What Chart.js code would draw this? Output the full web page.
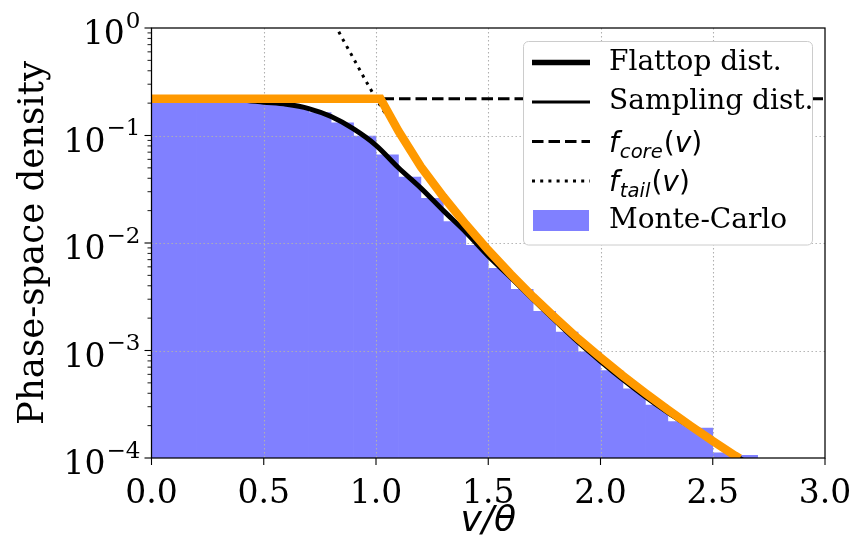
<!DOCTYPE html>
<html>
<head>
<meta charset="utf-8">
<script src="https://cdn.jsdelivr.net/npm/chart.js@4/dist/chart.umd.min.js"></script>
<style>
  html, body { margin: 0; padding: 0; background: #fff; }
  #wrap { width: 857px; height: 541px; }
</style>
</head>
<body>
<div id="wrap"><canvas id="c" width="857" height="541"></canvas></div>
<script>
// ---- data -------------------------------------------------------------
// velocity grid (v/theta) for the smooth curves
const speedGrid = [0.0, 0.1, 0.2, 0.3, 0.4, 0.5, 0.6, 0.7, 0.8, 0.9, 1.0, 1.1, 1.2, 1.3,
                   1.4, 1.5, 1.6, 1.7, 1.8, 1.9, 2.0, 2.1, 2.2, 2.3, 2.4, 2.5, 2.6, 2.7];
// flattop / sampling distribution (black curve)
const flattopDensity = [0.220, 0.220, 0.219, 0.218, 0.214, 0.204, 0.195, 0.178, 0.150, 0.115,
                        0.0810, 0.0501, 0.0324, 0.0200, 0.0126, 0.00759, 0.00479, 0.00298,
                        0.00188, 0.00120, 0.000794, 0.000537, 0.000372, 0.000266, 0.000195,
                        0.000143, 0.000105, 0.0000794];
// piecewise core/tail envelope (orange)
const envelopeV = [0.0, 1.02, 1.1, 1.2, 1.3, 1.4, 1.5, 1.6, 1.7, 1.8, 1.9, 2.0, 2.1, 2.2, 2.3,
                   2.4, 2.5, 2.6, 2.62];
const envelopeDensity = [0.22, 0.22, 0.110, 0.0512, 0.0269, 0.0149, 0.00857, 0.00512, 0.00315,
                         0.00200, 0.00129, 0.000859, 0.000581, 0.000401, 0.000281, 0.000200,
                         0.000144, 0.000105, 0.0000991];
// f_core(v): flat core level
const coreV = [0.0, 3.0];
const coreDensity = [0.22, 0.22];
// f_tail(v): steep tail, shown where it rises above the core
const tailV = [0.80, 0.85, 0.90, 0.95, 1.00, 1.05];
const tailDensity = [1.26, 0.80, 0.52, 0.335, 0.22, 0.15];
// Monte-Carlo histogram, bin width 0.1
const binCenters = [0.05, 0.15, 0.25, 0.35, 0.45, 0.55, 0.65, 0.75, 0.85, 0.95, 1.05, 1.15, 1.25,
                    1.35, 1.45, 1.55, 1.65, 1.75, 1.85, 1.95, 2.05, 2.15, 2.25, 2.35, 2.45, 2.55, 2.65];
const mcDensity = [0.200, 0.200, 0.200, 0.200, 0.200, 0.196, 0.184, 0.163, 0.131, 0.099, 0.066,
                   0.041, 0.026, 0.0158, 0.0095, 0.0058, 0.0037, 0.00232, 0.00148, 0.00097,
                   0.00065, 0.00044, 0.00031, 0.000218, 0.00019, 0.000112, 0.000106];
// axis ticks
const xTickValues = [0.0, 0.5, 1.0, 1.5, 2.0, 2.5, 3.0];
const yDecades = [0, -1, -2, -3, -4];

// ---- helpers ----------------------------------------------------------
const pts = (xs, ys) => xs.map((x, i) => ({ x: x, y: ys[i] }));
const SERIF = '"DejaVu Serif", "Liberation Serif", serif';
const SANS = '"DejaVu Sans", "Liberation Sans", sans-serif';
const HIST_BLUE = '#8080ff';
const ORANGE = '#ff9900';

function seg(ctx, x1, y1, x2, y2) {
  ctx.beginPath(); ctx.moveTo(x1, y1); ctx.lineTo(x2, y2); ctx.stroke();
}

// draws f_{sub}(v) in mathtext style
function drawMathF(ctx, x, baseline, sub, size) {
  const subSize = size * 0.7;
  ctx.textBaseline = 'alphabetic';
  ctx.textAlign = 'left';
  ctx.font = 'italic ' + size + 'px ' + SANS;
  ctx.fillText('f', x, baseline);
  x += ctx.measureText('f').width + 1;
  ctx.font = 'italic ' + subSize + 'px ' + SANS;
  ctx.fillText(sub, x, baseline + size * 0.22);
  x += ctx.measureText(sub).width + 1;
  ctx.font = size + 'px ' + SANS;
  ctx.fillText('(', x, baseline);
  x += ctx.measureText('(').width;
  ctx.font = 'italic ' + size + 'px ' + SANS;
  ctx.fillText('v', x, baseline);
  x += ctx.measureText('v').width;
  ctx.font = size + 'px ' + SANS;
  ctx.fillText(')', x, baseline);
}

const decorations = {
  id: 'decorations',
  // dotted grid sits above the histogram but below the curves
  afterDatasetDraw(chart, args) {
    if (args.index !== 0) return;
    const { ctx, chartArea: a, scales: { x, y } } = chart;
    ctx.save();
    ctx.strokeStyle = '#b0b0b0';
    ctx.lineWidth = 1.1;
    ctx.setLineDash([1.4, 2.6]);
    xTickValues.forEach(v => {
      const px = Math.round(x.getPixelForValue(v)) + 0.5;
      if (px > a.left + 2 && px < a.right - 2) seg(ctx, px, a.top, px, a.bottom);
    });
    yDecades.forEach(d => {
      const py = Math.round(y.getPixelForValue(Math.pow(10, d))) + 0.5;
      if (py > a.top + 2 && py < a.bottom - 2) seg(ctx, a.left, py, a.right, py);
    });
    ctx.restore();
  },
  afterDraw(chart) {
    const { ctx, chartArea: a, scales: { x, y } } = chart;
    ctx.save();
    // frame
    ctx.strokeStyle = '#000';
    ctx.lineWidth = 1.25;
    ctx.setLineDash([]);
    ctx.strokeRect(a.left, a.top, a.right - a.left, a.bottom - a.top);
    // x ticks
    ctx.lineWidth = 1.1;
    xTickValues.forEach(v => {
      const px = x.getPixelForValue(v);
      seg(ctx, px, a.bottom, px, a.bottom + 7);
    });
    // y ticks (major + minor) and labels 10^n
    yDecades.forEach(d => {
      const py = y.getPixelForValue(Math.pow(10, d));
      ctx.lineWidth = 1.1;
      seg(ctx, a.left - 7, py, a.left, py);
      if (d < 0) {
        ctx.lineWidth = 0.9;
        for (let m = 2; m <= 9; m++) {
          const pm = y.getPixelForValue(m * Math.pow(10, d));
          seg(ctx, a.left - 4, pm, a.left, pm);
        }
      }
      const exp = d === 0 ? '0' : '\u2212' + String(-d);
      ctx.fillStyle = '#000';
      ctx.textBaseline = 'alphabetic';
      ctx.textAlign = 'right';
      const right = a.left - 11;
      ctx.font = '23px ' + SERIF;
      const ew = ctx.measureText(exp).width;
      ctx.fillText(exp, right, py - 0.5);
      ctx.font = '33px ' + SERIF;
      ctx.fillText('10', right - ew - 1, py + 16);
    });
    // y title
    ctx.save();
    ctx.translate(34, (a.top + a.bottom) / 2);
    ctx.rotate(-Math.PI / 2);
    ctx.font = '35.5px ' + SERIF;
    ctx.textAlign = 'center';
    ctx.textBaseline = 'middle';
    ctx.fillText('Phase-space density', 0, 0);
    ctx.restore();
    // x title v/θ
    ctx.font = 'italic 36px ' + SANS;
    ctx.textAlign = 'center';
    ctx.textBaseline = 'alphabetic';
    ctx.fillText('v/\u03b8', (a.left + a.right) / 2, 531);

    // legend
    const lx = 523.5, ly = 41.5, lw = 289, lh = 203.5;
    ctx.beginPath();
    ctx.roundRect(lx, ly, lw, lh, 5);
    ctx.fillStyle = '#ffffff';
    ctx.fill();
    ctx.strokeStyle = '#cccccc';
    ctx.lineWidth = 1;
    ctx.stroke();
    const rowY = [62.5, 102, 141.5, 181, 220.5];
    const sx1 = 532, sx2 = 590, tx = 609;
    ctx.strokeStyle = '#000';
    ctx.lineCap = 'butt';
    // Flattop dist.
    ctx.lineWidth = 5.5; ctx.setLineDash([]);
    seg(ctx, sx1, rowY[0], sx2, rowY[0]);
    // Sampling dist.
    ctx.lineWidth = 3; seg(ctx, sx1, rowY[1], sx2, rowY[1]);
    // f_core
    ctx.setLineDash([11.5, 5]); seg(ctx, sx1, rowY[2], sx2, rowY[2]);
    // f_tail
    ctx.setLineDash([3, 5.2]); seg(ctx, sx1, rowY[3], sx2, rowY[3]);
    ctx.setLineDash([]);
    // Monte-Carlo patch
    ctx.fillStyle = HIST_BLUE;
    ctx.fillRect(sx1 + 1, rowY[4] - 10.5, sx2 - sx1 - 2, 21);
    // labels
    ctx.fillStyle = '#000';
    ctx.font = '28px ' + SERIF;
    ctx.textAlign = 'left';
    ctx.textBaseline = 'middle';
    ctx.fillText('Flattop dist.', tx, rowY[0]);
    ctx.fillText('Sampling dist.', tx, rowY[1]);
    ctx.fillText('Monte-Carlo', tx, rowY[4]);
    drawMathF(ctx, tx, rowY[2] + 10, 'core', 28);
    drawMathF(ctx, tx, rowY[3] + 10, 'tail', 28);
    ctx.restore();
  }
};

const chart = new Chart(document.getElementById('c'), {
  type: 'bar',
  data: {
    datasets: [
      {
        type: 'bar', label: 'Monte-Carlo', order: 10,
        data: pts(binCenters, mcDensity),
        backgroundColor: HIST_BLUE, borderWidth: 0,
        barPercentage: 1, categoryPercentage: 1
      },
      {
        type: 'line', label: 'f_tail(v)', order: 6,
        data: pts(tailV, tailDensity),
        borderColor: '#000', borderWidth: 3, borderDash: [3, 5.2],
        pointRadius: 0, fill: false, clip: 0
      },
      {
        type: 'line', label: 'f_core(v)', order: 5,
        data: pts(coreV, coreDensity),
        borderColor: '#000', borderWidth: 3, borderDash: [11.5, 5],
        pointRadius: 0, fill: false, clip: 0
      },
      {
        type: 'line', label: 'Sampling dist.', order: 4,
        data: pts(speedGrid, flattopDensity),
        borderColor: '#000', borderWidth: 3, cubicInterpolationMode: 'monotone',
        pointRadius: 0, fill: false, clip: 0
      },
      {
        type: 'line', label: 'Flattop dist.', order: 3,
        data: pts(speedGrid, flattopDensity),
        borderColor: '#000', borderWidth: 5, cubicInterpolationMode: 'monotone',
        pointRadius: 0, fill: false, clip: 0
      },
      {
        type: 'line', label: 'core/tail envelope', order: 1,
        data: pts(envelopeV, envelopeDensity),
        borderColor: ORANGE, borderWidth: 8.5, borderJoinStyle: 'miter',
        borderCapStyle: 'butt', pointRadius: 0, fill: false, clip: 0
      }
    ]
  },
  options: {
    responsive: false,
    animation: false,
    devicePixelRatio: 1,
    layout: { padding: { left: 0, right: 32, top: 28, bottom: 0 } },
    plugins: { legend: { display: false }, tooltip: { enabled: false } },
    scales: {
      x: {
        type: 'linear', min: 0, max: 3, offset: false,
        afterFit: s => { s.height = 83; s.paddingRight = 0; s.paddingLeft = 0; },
        afterBuildTicks: s => { s.ticks = xTickValues.map(v => ({ value: v })); },
        ticks: {
          callback: v => Number(v).toFixed(1),
          font: { family: SERIF, size: 33 }, color: '#000', padding: 9,
          maxRotation: 0, autoSkip: false
        },
        grid: { display: false },
        border: { display: false }
      },
      y: {
        type: 'logarithmic', min: 1e-4, max: 1,
        afterFit: s => { s.width = 151.5; s.paddingTop = 0; s.paddingBottom = 0; },
        ticks: { display: false },
        grid: { display: false },
        border: { display: false }
      }
    }
  },
  plugins: [decorations]
});
</script>
</body>
</html>
